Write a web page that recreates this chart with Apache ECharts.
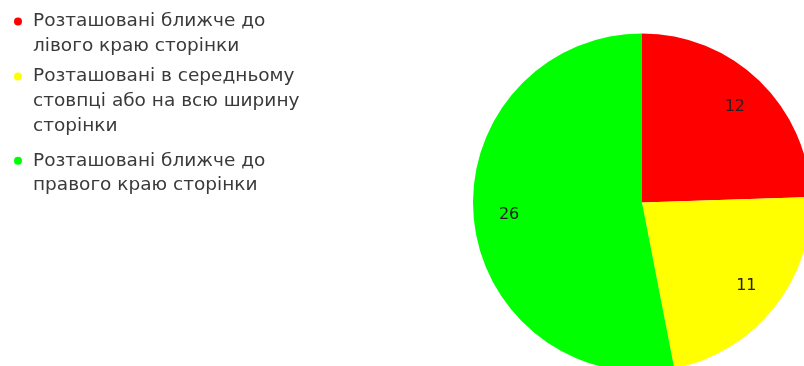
<!DOCTYPE html>
<html>
<head>
<meta charset="utf-8">
<script src="https://cdn.jsdelivr.net/npm/echarts@6/dist/echarts.min.js"></script>
<style>html,body{margin:0;padding:0;background:#fff;}#c{width:804px;height:366px;}</style>
</head>
<body>
<div id="c"></div>
<script>
const categories = [
  "Розташовані ближче до\nлівого краю сторінки",
  "Розташовані в середньому\nстовпці або на всю ширину\nсторінки",
  "Розташовані ближче до\nправого краю сторінки"
];
const values = [12, 11, 26];
const colors = ["#ff0000", "#ffff00", "#00ff00"];

const chart = echarts.init(document.getElementById('c'));
const data = categories.map((n, i) => ({ name: n, value: values[i], itemStyle: { color: colors[i] } }));

const LH = 24.6;
const rich = {
  t: { fontSize: 18.5, fontFamily: "DejaVu Sans, sans-serif", color: "#3a3a3a", lineHeight: LH },
  sp0: { width: 11, lineHeight: LH },
  sp: { width: 19, lineHeight: LH }
};
colors.forEach((c, i) => {
  rich['d' + i] = { width: 8, height: 8, borderRadius: 4, backgroundColor: c, lineHeight: LH };
});

const legendTops = [12, 67, 151.3];
const legends = categories.map((name, i) => ({
  orient: 'vertical',
  left: 9,
  top: legendTops[i],
  padding: 0,
  icon: 'none',
  itemWidth: 0,
  itemHeight: 8,
  selectedMode: false,
  data: [name],
  formatter: function (n) {
    const lines = n.split('\n');
    return lines.map((l, k) => (k === 0 ? '{d' + i + '| }{sp0| }' : '{sp| }') + '{t|' + l + '}').join('\n');
  },
  textStyle: { rich: rich }
}));

chart.setOption({
  animation: false,
  legend: legends,
  series: [
    {
      type: 'pie',
      center: [642, 202.5],
      radius: [0, 169],
      startAngle: 90,
      clockwise: true,
      label: { show: false },
      labelLine: { show: false },
      silent: true,
      data: data
    },
    {
      type: 'pie',
      center: [642, 202.5],
      radius: [92, 169],
      startAngle: 90,
      clockwise: true,
      silent: true,
      itemStyle: { color: 'rgba(0,0,0,0)' },
      label: {
        show: true,
        position: 'inside',
        formatter: '{c}',
        fontSize: 16,
        fontFamily: "DejaVu Sans, sans-serif",
        color: '#222'
      },
      labelLine: { show: false },
      data: categories.map((n, i) => ({ name: n, value: values[i], itemStyle: { color: 'rgba(0,0,0,0)' } }))
    }
  ]
});
</script>
</body>
</html>
